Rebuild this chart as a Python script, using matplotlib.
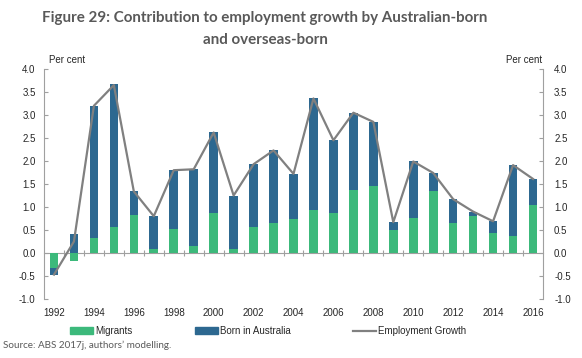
import matplotlib
matplotlib.use("Agg")
import matplotlib.pyplot as plt
from matplotlib.patches import Patch
from matplotlib.lines import Line2D
import numpy as np

years = list(range(1992, 2017))
migrants = [-0.33, -0.17, 0.32, 0.57, 0.83, 0.09, 0.53, 0.16, 0.88, 0.09, 0.57, 0.66, 0.74,
            0.93, 0.88, 1.38, 1.45, 0.51, 0.76, 1.35, 0.66, 0.80, 0.44, 0.36, 1.05]
born_aus = [-0.15, 0.41, 2.88, 3.10, 0.51, 0.71, 1.27, 1.66, 1.76, 1.16, 1.36, 1.58, 0.97,
            2.43, 1.57, 1.67, 1.40, 0.16, 1.23, 0.39, 0.51, 0.10, 0.25, 1.55, 0.56]
emp_growth = [-0.47, 0.25, 3.20, 3.65, 1.34, 0.80, 1.80, 1.82, 2.62, 1.25, 1.93, 2.23, 1.72,
              3.36, 2.45, 3.05, 2.85, 0.67, 1.99, 1.74, 1.17, 0.90, 0.69, 1.91, 1.61]
yticks = [-1.0, -0.5, 0.0, 0.5, 1.0, 1.5, 2.0, 2.5, 3.0, 3.5, 4.0]

GREEN = "#3cb97b"
BLUE = "#2d6890"
GRAY = "#808080"
SPINE = "#a0a0a0"
TXT = "#262626"
SANS = ["Liberation Sans", "DejaVu Sans"]

W, H = 582, 358
fig = plt.figure(figsize=(W / 100, H / 100), dpi=100)
ax = fig.add_axes([44 / W, 1 - 299 / H, (543 - 44) / W, 230 / H])

x = np.arange(len(years))
mig = np.array(migrants)
born = np.array(born_aus)
# stacking: positives stack upward from 0, negatives downward
mig_bottom = np.zeros_like(mig)
born_bottom = np.where((born >= 0) == (mig >= 0), mig, 0.0)
bw = 0.43
ax.bar(x, mig, bw, bottom=mig_bottom, color=GREEN, zorder=2)
ax.bar(x, born, bw, bottom=born_bottom, color=BLUE, zorder=2)
ax.plot(x, emp_growth, color=GRAY, lw=1.6, zorder=3)

ax.set_xlim(-0.5, len(years) - 0.5)
ax.set_ylim(-1.0, 4.0)
ax.set_yticks(yticks)
ax.set_yticklabels([f"{v:.1f}" for v in yticks])

for s in ["top", "right"]:
    ax.spines[s].set_visible(False)
ax.spines["bottom"].set_position(("data", 0))
ax.spines["bottom"].set_color(SPINE)
ax.spines["left"].set_color(SPINE)
ax.spines["bottom"].set_zorder(1)

ax.set_xticks([])
ax.set_xticks(np.arange(0.5, len(years) - 1, 1.0), minor=True)
ax.tick_params(axis="x", which="minor", direction="inout", length=5, color=SPINE, width=0.8)
ax.tick_params(axis="y", direction="in", length=3, color=SPINE, labelsize=7,
               labelcolor=TXT, pad=6)

ax2 = ax.twinx()
ax2.set_ylim(-1.0, 4.0)
ax2.set_yticks(yticks)
ax2.set_yticklabels([f"{v:.1f}" for v in yticks])
for s in ["top", "left", "bottom"]:
    ax2.spines[s].set_visible(False)
ax2.spines["right"].set_color(SPINE)
ax2.tick_params(axis="y", direction="in", length=3, color=SPINE, labelsize=7,
                labelcolor=TXT, pad=8)

for lab in ax.get_yticklabels() + ax2.get_yticklabels():
    lab.set_family(SANS)

trans = ax.get_xaxis_transform()
for i, yr in enumerate(years):
    if yr % 2 == 0:
        ax.text(i, -(313 - 299) / 230, str(yr), transform=trans, ha="center", va="center",
                fontsize=7, color=TXT, family=SANS)

fig.text(49 / W, 1 - 60 / H, "Per cent", ha="left", va="center", fontsize=7,
         color=TXT, family=SANS)
fig.text(542 / W, 1 - 60 / H, "Per cent", ha="right", va="center", fontsize=7,
         color=TXT, family=SANS)

fig.text(265 / W, 1 - 18 / H, "Figure 29: Contribution to employment growth by Australian-born",
         ha="center", va="center", fontsize=10.9, fontweight="bold", color="#595959",
         family=["Lato", "DejaVu Sans"])
fig.text(265 / W, 1 - 40 / H, "and overseas-born",
         ha="center", va="center", fontsize=10.9, fontweight="bold", color="#595959",
         family=["Lato", "DejaVu Sans"])

fig.text(3 / W, 1 - 345 / H, "Source: ABS 2017j, authors\u2019 modelling.", ha="left",
         va="center", fontsize=7.1, color="#595959", family=["Lato", "DejaVu Sans"])

handles = [Patch(color=GREEN), Patch(color=BLUE), Line2D([], [], color=GRAY, lw=1.6)]
labels = ["Migrants", "Born in Australia", "Employment Growth"]
fig.legend(handles, labels, loc="center left", bbox_to_anchor=(70 / W, 1 - 331 / H),
           ncol=3, frameon=False, borderpad=0, borderaxespad=0, handlelength=2.35,
           handleheight=0.7, handletextpad=0.25, columnspacing=6.4,
           prop={"family": SANS, "size": 7}, labelcolor=TXT)

fig.savefig("out.png", dpi=100)
